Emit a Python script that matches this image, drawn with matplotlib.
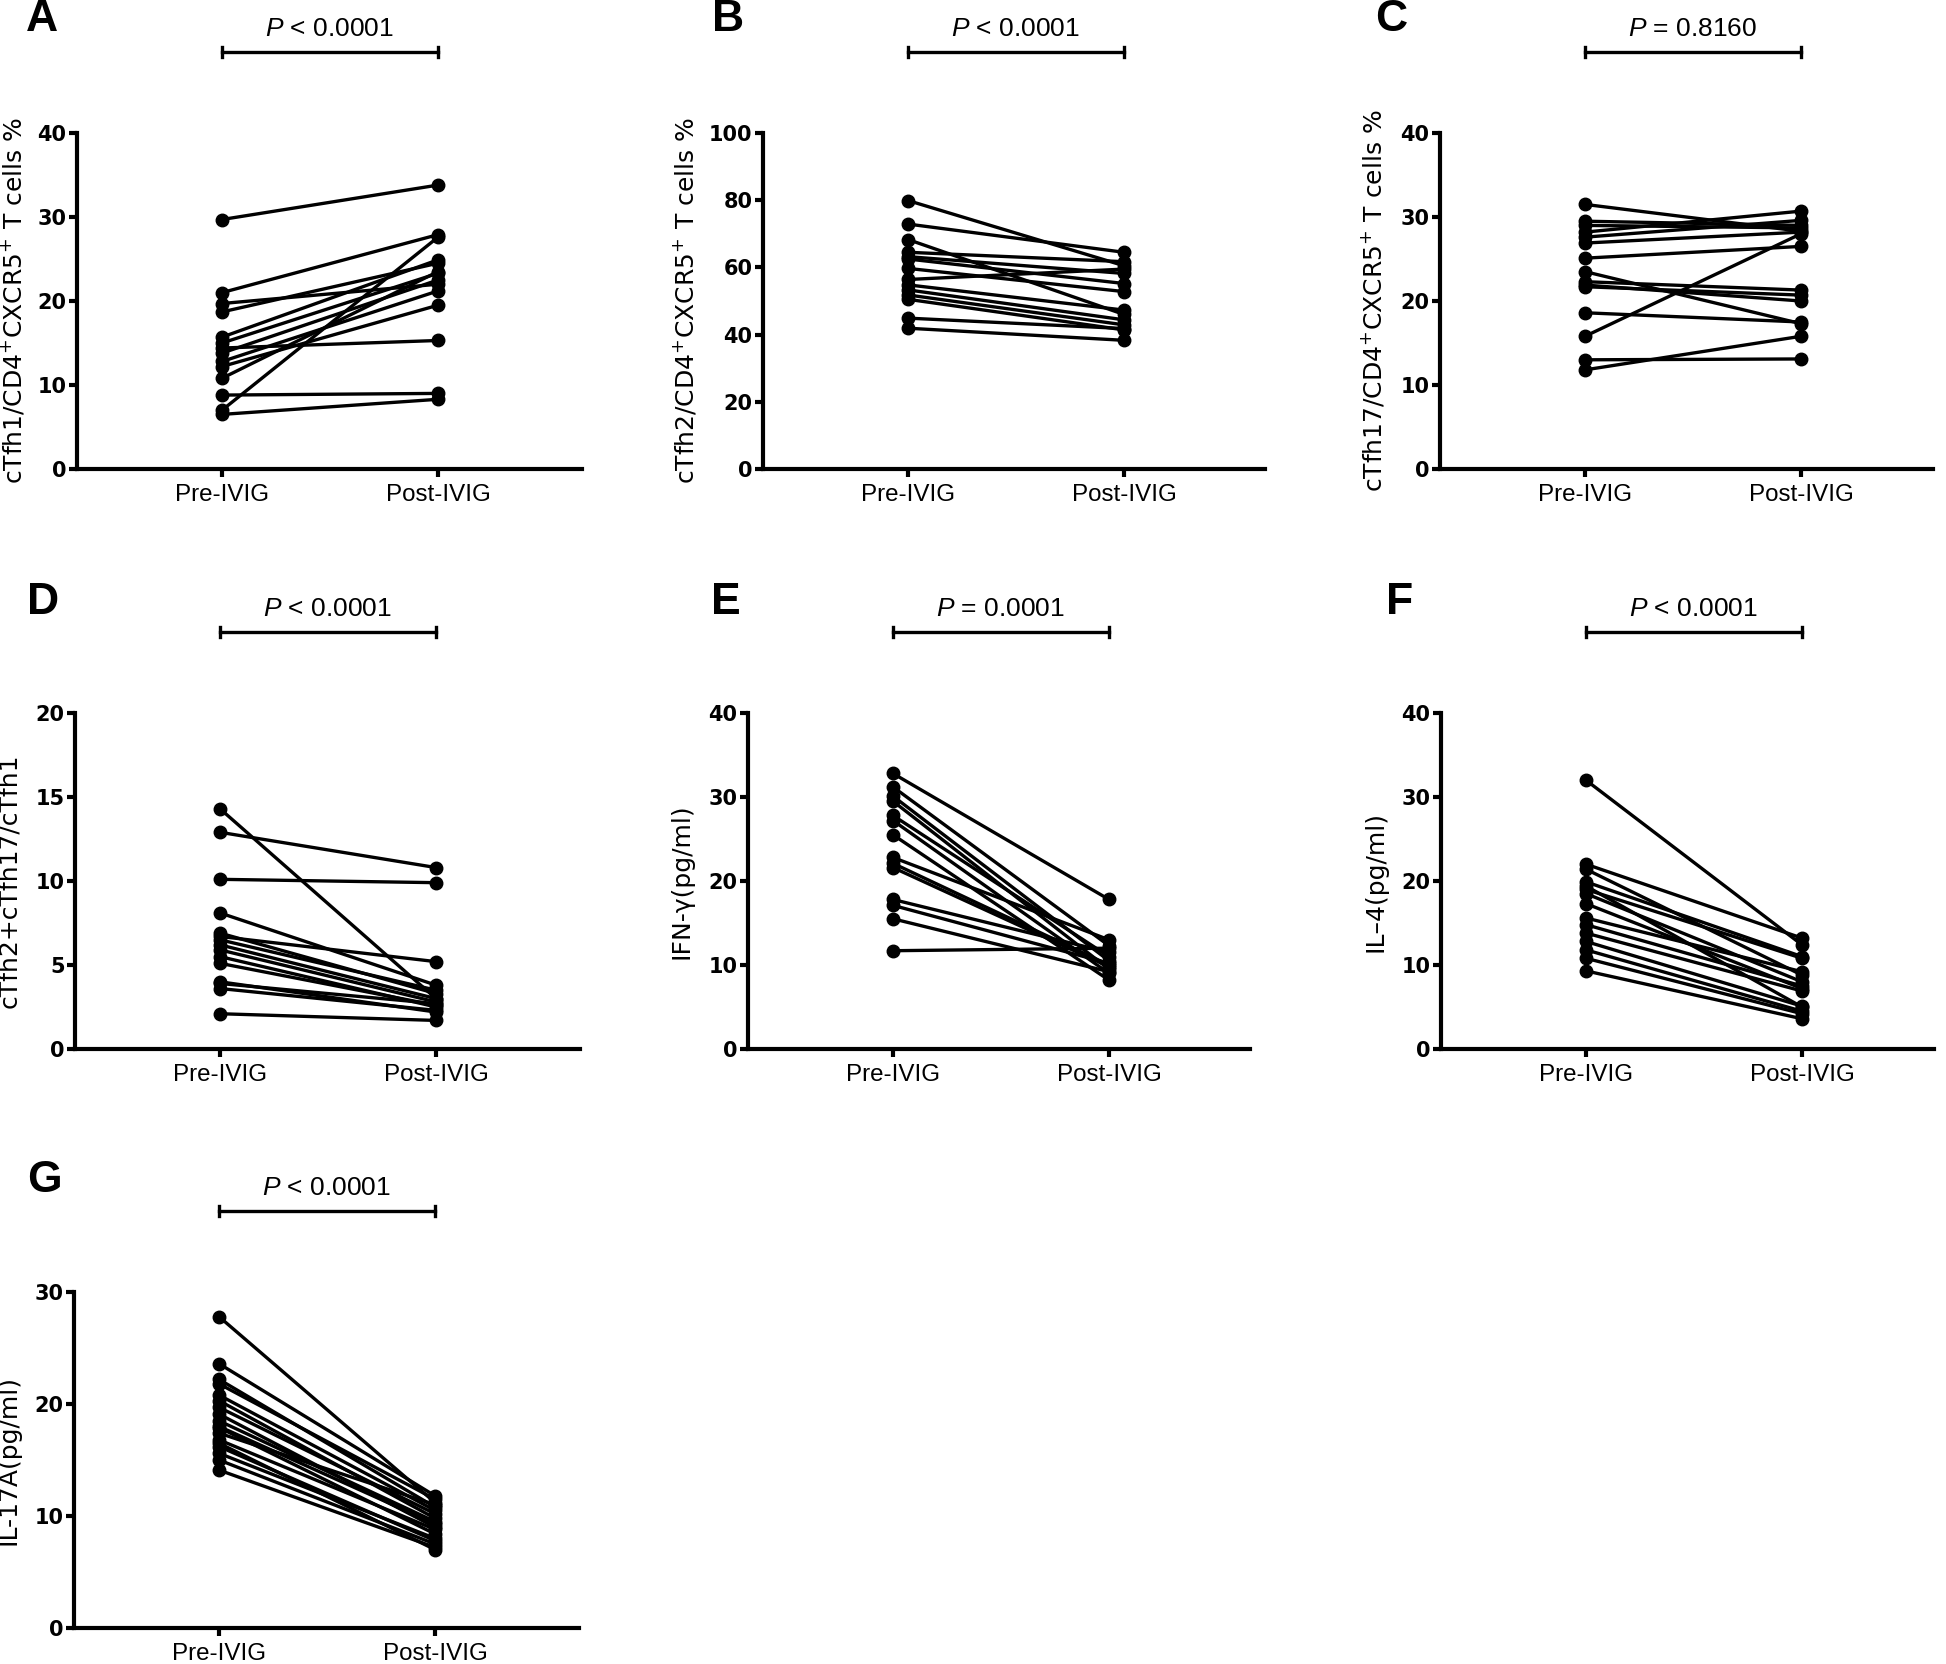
import matplotlib
matplotlib.use("Agg")
import matplotlib.pyplot as plt
import numpy as np

plt.rcParams['font.family'] = ['Liberation Sans', 'DejaVu Sans']
plt.rcParams['mathtext.fontset'] = 'custom'
plt.rcParams['mathtext.rm'] = 'DejaVu Sans'
plt.rcParams['mathtext.it'] = 'Liberation Sans:italic'
plt.rcParams['mathtext.bf'] = 'DejaVu Sans:bold'

groups = ["Pre-IVIG", "Post-IVIG"]

# panel A: cTfh1
A_pre = [29.7, 21.0, 19.7, 18.7, 15.7, 15.0, 14.4, 13.8, 12.8, 12.2, 10.8, 8.8, 7.0, 6.5]
A_post = [33.8, 27.9, 22.0, 24.5, 24.9, 23.3, 15.3, 22.5, 21.2, 19.5, 23.5, 9.0, 27.6, 8.3]
# panel B: cTfh2
B_pre = [79.9, 72.9, 68.3, 64.5, 63.2, 62.5, 59.7, 56.4, 54.8, 53.3, 51.8, 50.5, 44.9, 41.9]
B_post = [60.5, 64.5, 46.0, 61.7, 58.2, 55.2, 52.8, 59.5, 47.3, 44.4, 42.9, 41.4, 41.8, 38.3]
# panel C: cTfh17
C_pre = [31.5, 29.5, 29.0, 28.2, 27.6, 26.9, 25.1, 23.5, 22.3, 21.9, 21.7, 18.6, 15.8, 13.0, 11.8]
C_post = [28.3, 29.0, 28.7, 30.7, 29.6, 28.2, 26.5, 17.3, 21.3, 20.0, 20.7, 17.5, 28.0, 13.1, 15.8]
# panel D: (cTfh2+cTfh17)/cTfh1
D_pre = [14.3, 12.9, 10.1, 8.1, 6.9, 6.7, 6.5, 6.2, 5.9, 5.5, 5.1, 4.0, 3.9, 3.6, 2.1]
D_post = [3.0, 10.8, 9.9, 3.8, 3.3, 5.2, 3.5, 3.0, 2.8, 2.5, 2.6, 2.2, 2.7, 2.3, 1.7]
# panel E: IFN-gamma
E_pre = [32.8, 31.2, 30.1, 29.5, 27.8, 27.2, 25.5, 22.8, 22.1, 21.6, 17.8, 17.1, 15.5, 11.7]
E_post = [17.8, 12.3, 10.5, 9.5, 11.0, 9.0, 8.2, 13.0, 10.0, 9.8, 11.5, 10.2, 9.2, 12.0]
# panel F: IL-4
F_pre = [32.0, 22.0, 21.4, 19.9, 19.4, 19.0, 18.5, 17.3, 15.6, 14.8, 13.8, 12.8, 11.8, 10.8, 9.3]
F_post = [12.4, 13.2, 8.8, 11.0, 5.0, 10.8, 8.0, 7.2, 9.2, 7.5, 6.9, 5.1, 4.5, 4.2, 3.6]
# panel G: IL-17A
G_pre = [27.8, 23.6, 22.2, 21.8, 20.8, 20.3, 19.7, 19.1, 18.5, 18.0, 17.9, 17.4, 16.8, 16.5, 16.2, 15.6, 15.0, 14.1]
G_post = [11.2, 11.8, 10.8, 11.5, 10.5, 9.8, 10.2, 9.0, 9.5, 9.3, 8.4, 11.0, 8.8, 7.0, 7.8, 8.0, 7.5, 7.2]

letters = ["A", "B", "C", "D", "E", "F", "G"]
ylabels = ["cTfh1/CD4$^{+}$CXCR5$^{+}$ T cells %",
           "cTfh2/CD4$^{+}$CXCR5$^{+}$ T cells %",
           "cTfh17/CD4$^{+}$CXCR5$^{+}$ T cells %",
           "cTfh2+cTfh17/cTfh1",
           "IFN-\u03b3(pg/ml)",
           "IL\u20134(pg/ml)",
           "IL-17A(pg/ml)"]
pvalues = ["$P$ < 0.0001", "$P$ < 0.0001", "$P$ = 0.8160", "$P$ < 0.0001",
           "$P$ = 0.0001", "$P$ < 0.0001", "$P$ < 0.0001"]
ymax = [40, 100, 40, 20, 40, 40, 30]
ystep = [10, 20, 10, 5, 10, 10, 10]
pre_all = [A_pre, B_pre, C_pre, D_pre, E_pre, F_pre, G_pre]
post_all = [A_post, B_post, C_post, D_post, E_post, F_post, G_post]

# layout in pixels: axis left, axis bottom, axis width, letter left, letter cap top, ylabel baseline x
W, H = 1946, 1664
AH = 336
PAIR = 216  # pixels between Pre and Post ticks
PRE_OFF = 145  # pixels from y axis to Pre tick
layout = [(77, 469, 505, 26, 7, 27), (763, 469, 502, 712, 7, 699),
          (1440, 469, 493, 1375, 7, 1387),
          (75, 1049, 505, 27, 590, 21), (748, 1049, 502, 711, 590, 693),
          (1441, 1049, 493, 1386, 590, 1387),
          (74, 1628, 505, 27, 1168, 21)]

fig = plt.figure(figsize=(W / 100, H / 100), dpi=100)

for i in range(7):
    left, bottom, aw, lx, ly, yl = layout[i]
    ax = fig.add_axes([left / W, 1 - bottom / H, aw / W, AH / H])
    for a, b in zip(pre_all[i], post_all[i]):
        ax.plot([0, 1], [a, b], color="black", lw=2.4, marker="o", ms=9,
                clip_on=False, zorder=3)
    ax.set_xlim(-PRE_OFF / PAIR, (aw - PRE_OFF) / PAIR)
    ax.set_ylim(0, ymax[i])
    ax.set_yticks(np.arange(0, ymax[i] + 0.1, ystep[i]))
    ax.set_xticks([0, 1])
    ax.set_xticklabels(groups, fontsize=17.4)
    for lab in ax.get_yticklabels():
        lab.set_fontfamily("DejaVu Sans")
        lab.set_fontweight("bold")
        lab.set_fontsize(15)
    for s in ["top", "right"]:
        ax.spines[s].set_visible(False)
    for s in ["left", "bottom"]:
        ax.spines[s].set_linewidth(3.0)
    ax.tick_params(axis="y", length=6, width=3.0, pad=1.5)
    ax.tick_params(axis="x", length=6, width=3.0, pad=5)
    ax.set_ylabel(ylabels[i], fontsize=18, family="DejaVu Sans")
    ax.yaxis.set_label_coords((yl - left) / aw, 0.5)

    # significance bar with end caps
    trans = ax.get_xaxis_transform()
    by = 1.241
    ax.plot([0, 1], [by, by], color="black", lw=2.4, transform=trans, clip_on=False)
    for xx in [0, 1]:
        ax.plot([xx, xx], [by - 0.016, by + 0.016], color="black", lw=2.4,
                transform=trans, clip_on=False)
    ax.text(0.5, 1.289, pvalues[i], transform=trans, ha="center", va="baseline",
            fontsize=19)

    fig.text(lx / W, 1 - (ly - 8) / H, letters[i], fontsize=32, fontweight="bold",
             ha="left", va="top")

fig.savefig("out.png", dpi=100)
